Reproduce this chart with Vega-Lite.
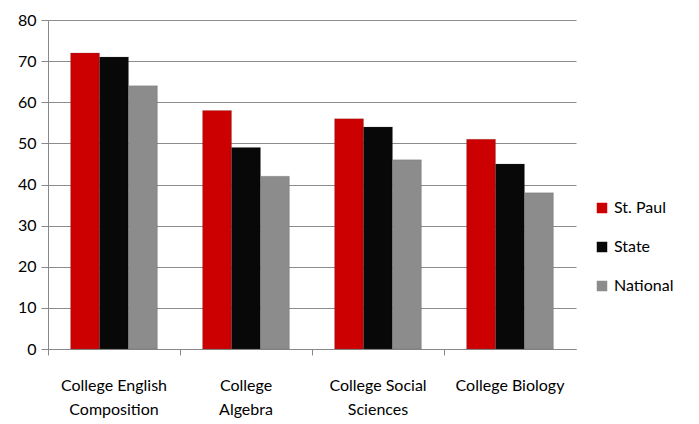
{
  "$schema": "https://vega.github.io/schema/vega-lite/v6.json",
  "width": 528,
  "height": 329,
  "autosize": "none",
  "padding": {"left": 48, "top": 20, "right": 123, "bottom": 75},
  "background": "white",
  "config": {
    "font": "Lato",
    "view": {"stroke": null}
  },
  "data": {
    "values": [
      {"course": "College English Composition", "group": "St. Paul", "value": 72},
      {"course": "College English Composition", "group": "State", "value": 71},
      {"course": "College English Composition", "group": "National", "value": 64},
      {"course": "College Algebra", "group": "St. Paul", "value": 58},
      {"course": "College Algebra", "group": "State", "value": 49},
      {"course": "College Algebra", "group": "National", "value": 42},
      {"course": "College Social Sciences", "group": "St. Paul", "value": 56},
      {"course": "College Social Sciences", "group": "State", "value": 54},
      {"course": "College Social Sciences", "group": "National", "value": 46},
      {"course": "College Biology", "group": "St. Paul", "value": 51},
      {"course": "College Biology", "group": "State", "value": 45},
      {"course": "College Biology", "group": "National", "value": 38}
    ]
  },
  "mark": {"type": "bar", "stroke": "#555555", "strokeWidth": 0.5, "strokeOpacity": 0.4},
  "encoding": {
    "x": {
      "field": "course",
      "type": "nominal",
      "sort": ["College English Composition", "College Algebra", "College Social Sciences", "College Biology"],
      "scale": {"paddingInner": 0, "paddingOuter": 0},
      "axis": {
        "title": null,
        "labelAngle": 0,
        "bandPosition": 0,
        "domainColor": "#888888",
        "tickColor": "#888888",
        "tickSize": 6,
        "labelPadding": 22,
        "labelFontSize": 16,
        "labelColor": "#000000",
        "labelLineHeight": 24,
        "labelExpr": "datum.label == 'College English Composition' ? ['College English', 'Composition'] : datum.label == 'College Algebra' ? ['College', 'Algebra'] : datum.label == 'College Social Sciences' ? ['College Social', 'Sciences'] : datum.label",
        "labelBaseline": "top"
      }
    },
    "xOffset": {
      "field": "group",
      "type": "nominal",
      "sort": ["St. Paul", "State", "National"],
      "scale": {"paddingInner": 0, "paddingOuter": 0.78}
    },
    "y": {
      "field": "value",
      "type": "quantitative",
      "scale": {"domain": [0, 80]},
      "axis": {
        "title": null,
        "values": [0, 10, 20, 30, 40, 50, 60, 70, 80],
        "gridColor": "#8c8c8c",
        "domainColor": "#888888",
        "tickColor": "#888888",
        "tickSize": 7,
        "labelFontSize": 16,
        "labelColor": "#000000",
        "labelPadding": 5
      }
    },
    "color": {
      "field": "group",
      "type": "nominal",
      "sort": ["St. Paul", "State", "National"],
      "scale": {"domain": ["St. Paul", "State", "National"], "range": ["#cc0000", "#080808", "#8c8c8c"]},
      "legend": {
        "title": null,
        "orient": "none",
        "legendX": 546,
        "legendY": 180,
        "symbolType": "square",
        "symbolSize": 110,
        "labelFontSize": 16,
        "labelColor": "#000000",
        "rowPadding": 23,
        "symbolStrokeWidth": 0
      }
    }
  }
}
